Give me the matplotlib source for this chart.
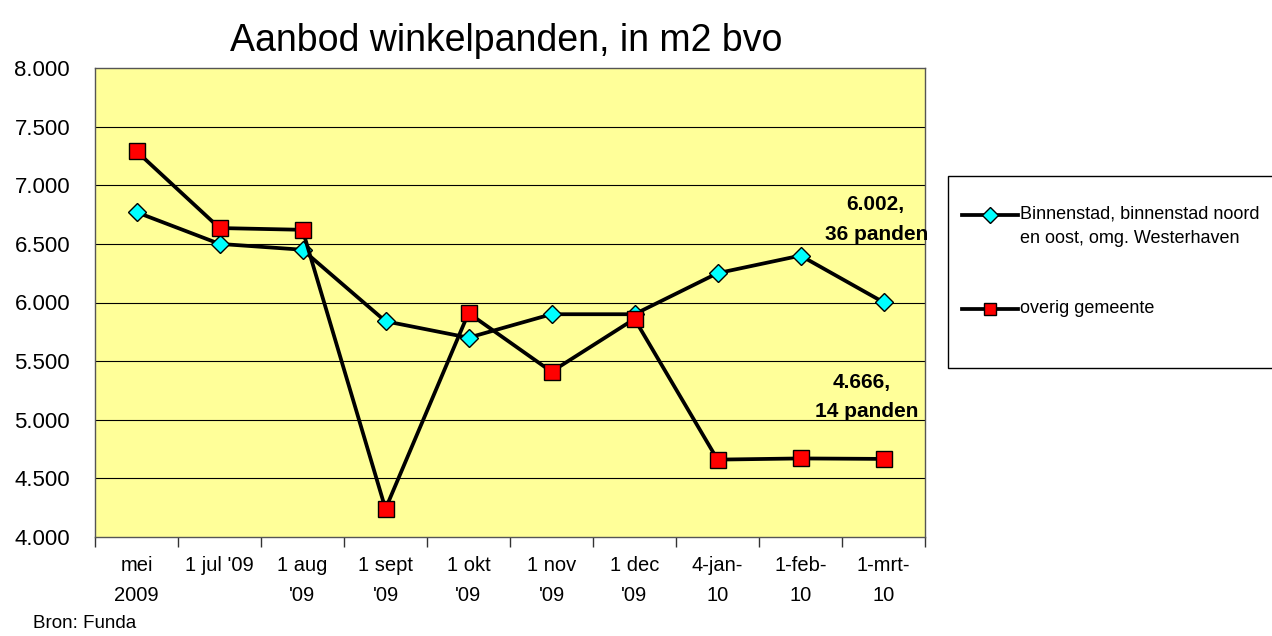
import matplotlib
matplotlib.use("Agg")
import matplotlib.pyplot as plt
from matplotlib.patches import Rectangle
from matplotlib.lines import Line2D

categories = ["mei\n2009", "1 jul '09", "1 aug\n'09", "1 sept\n'09", "1 okt\n'09",
              "1 nov\n'09", "1 dec\n'09", "4-jan-\n10", "1-feb-\n10", "1-mrt-\n10"]
binnenstad = [6770, 6500, 6450, 5840, 5700, 5900, 5900, 6250, 6400, 6002]
overig = [7290, 6635, 6620, 4240, 5910, 5410, 5860, 4660, 4670, 4666]
series_names = ["Binnenstad, binnenstad noord\nen oost, omg. Westerhaven", "overig gemeente"]
panden = [36, 14]
yticks = [4000, 4500, 5000, 5500, 6000, 6500, 7000, 7500, 8000]

narrow = ["Liberation Sans Narrow", "Liberation Sans", "DejaVu Sans"]
plt.rcParams['font.family'] = ["Liberation Sans", "DejaVu Sans"]

fig = plt.figure(figsize=(12.72, 6.36), dpi=100)
ax = fig.add_axes([95/1272, 1-537/636, 830/1272, 469/636])
ax.set_facecolor("#FFFF99")

x = list(range(len(categories)))
styles = [dict(marker="D", markersize=9.5, markerfacecolor="#00FFFF"),
          dict(marker="s", markersize=11.5, markerfacecolor="#FF0000")]
for vals, st in zip([binnenstad, overig], styles):
    ax.plot(x, vals, color="black", lw=2.7, markeredgecolor="black",
            markeredgewidth=1, zorder=3, **st)

ax.set_xlim(-0.5, len(categories) - 0.5)
ax.set_ylim(4000, 8000)
ax.set_yticks(yticks)
ax.set_yticklabels([f"{v/1000:.3f}" for v in yticks], fontsize=16)
ax.tick_params(axis="y", length=0, pad=18)
for v in yticks[1:-1]:
    ax.axhline(v, color="black", lw=0.8, zorder=1)

ax.set_xticks([i - 0.5 for i in range(len(categories) + 1)])
ax.set_xticklabels([])
ax.tick_params(axis="x", which="major", length=7, width=1, color="#333333", direction="out")
ax.set_xticks(x, minor=True)
ax.set_xticklabels(categories, minor=True, fontsize=14.5, linespacing=1.7)
ax.tick_params(axis="x", which="minor", length=0, pad=14)

for s in ax.spines.values():
    s.set_color("#555555")
    s.set_linewidth(1)

ax.set_title("Aanbod winkelpanden, in m2 bvo", fontsize=27, pad=12, x=0.495)

bold = dict(ha="right", va="center", fontsize=15, fontweight="bold", family=narrow,
            annotation_clip=False, textcoords="offset points")
ax.annotate(f"{binnenstad[-1]/1000:.3f},", xy=(9.5, binnenstad[-1] + 835), xytext=(-15, 0), **bold)
ax.annotate(f"{panden[0]} panden", xy=(9.5, binnenstad[-1] + 580), xytext=(2, 0), **bold)
ax.annotate(f"{overig[-1]/1000:.3f},", xy=(9.5, overig[-1] + 650), xytext=(-25, 0), **bold)
ax.annotate(f"{panden[1]} panden", xy=(9.5, overig[-1] + 405), xytext=(-5, 0), **bold)

# legend box (extends beyond right edge, as in the reference)
fig.patches.append(Rectangle((948/1272, 1-368/636), 340/1272, 192/636, transform=fig.transFigure,
                             facecolor="white", edgecolor="black", lw=1))
leg_styles = [dict(marker="D", markersize=8, markerfacecolor="#00FFFF"),
              dict(marker="s", markersize=8.5, markerfacecolor="#FF0000")]
leg_y = [215, 309]
for name, st, yy in zip(series_names, leg_styles, leg_y):
    yf = 1 - yy / 636
    fig.lines.append(Line2D([962/1272, 1018/1272], [yf, yf], transform=fig.transFigure,
                            color="black", lw=2.7, zorder=3))
    fig.lines.append(Line2D([990/1272], [yf], transform=fig.transFigure, color="black",
                            lw=0, markeredgecolor="black", markeredgewidth=1, zorder=4, **st))
    fig.text(1020/1272, yf + 9/636, name, ha="left", va="top", fontsize=13,
             family=narrow, linespacing=1.55)

fig.text(33/1272, 1-623/636, "Bron: Funda", fontsize=13.5, va="center", ha="left")

fig.savefig("out.png", dpi=100)
